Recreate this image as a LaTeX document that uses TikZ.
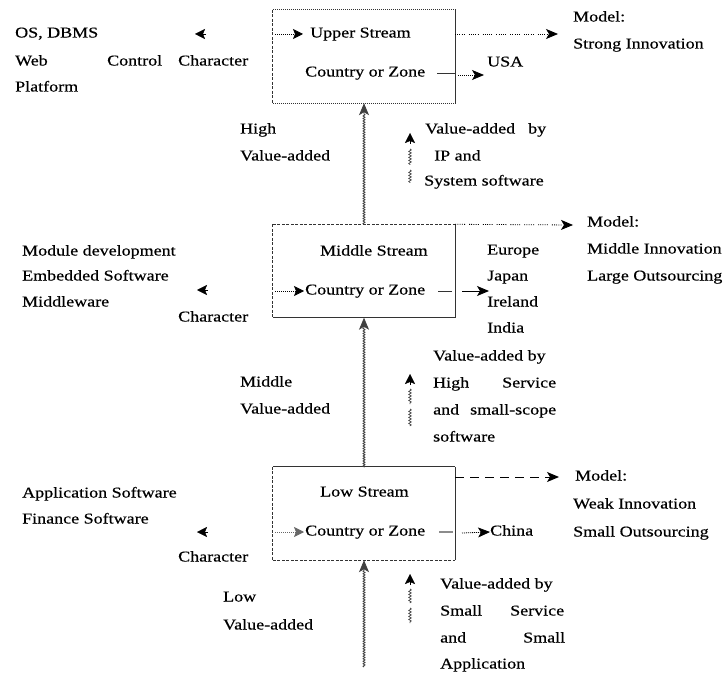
\documentclass[tikz,border=0pt]{standalone}
\usepackage{fontspec}
\setmainfont[FakeStretch=1.2,FakeBold=0.4]{Liberation Serif}
\usetikzlibrary{arrows.meta,decorations.pathmorphing}
\begin{document}
\begin{tikzpicture}[x=1pt,y=-1pt,
  lbl/.style={anchor=west,inner sep=0pt,text height=10pt,text depth=3pt,font=\fontsize{15}{18}\selectfont},
  box/.style={minimum width=182pt,minimum height=93pt,inner sep=0pt},
  edge/.style={line width=1.1pt,black!80},
  sarrow/.style={arrows={-Stealth[length=12pt,width=10pt,inset=3pt]}},
  loneh/.style={arrows={-Stealth[length=10pt,width=10pt,inset=2pt]}},
  dots/.style={line width=0.8pt,dash pattern=on 1pt off 1.2pt on 1pt off 1.2pt on 1pt off 1.2pt on 1pt off 1.2pt on 1pt off 4pt},
  fine/.style={line width=0.8pt,dash pattern=on 1pt off 1pt},
  dashedge/.style={line width=1pt,dash pattern=on 3pt off 1.5pt},
  longdash/.style={line width=1pt,dash pattern=on 9pt off 6pt},
  wavy/.style={line width=0.8pt,black!75,decorate,decoration={snake,amplitude=1pt,segment length=2.5pt,post length=10pt}},
  minwave/.style={line width=0.7pt,black!75,decorate,decoration={snake,amplitude=1.3pt,segment length=3pt}},
]
\useasboundingbox (0,0) rectangle (725,676);

% ---------- the three stream boxes ----------
\node[box] (up)  at (364,56.5) {};
\node[box] (mid) at (364,271)  {};
\node[box] (low) at (364,513.5) {};

% upper stream borders
\draw[edge,fine] (up.north west) -- (up.north east);
\draw[edge,dashedge] (up.north west) -- (up.south west);
\draw[edge]      (up.north east) -- (up.south east);
\draw[edge,fine] (up.south west) -- (up.south east);
% middle stream borders
\draw[edge,dashedge] (mid.north west) -- (mid.north east);
\draw[edge,dashedge] (mid.north west) -- (mid.south west);
\draw[edge]      (mid.north east) -- (mid.south east);
\draw[edge]      (mid.south west) -- (mid.south east);
% low stream borders
\draw[edge]      (low.north west) -- (low.north east);
\draw[edge,dashedge] (low.north west) -- (low.south west);
\draw[edge]      (low.north east) -- (low.south east);
\draw[edge,dashedge] (low.south west) -- (low.south east);

% ---------- upper stream ----------
\node[lbl] (upT) at (310,34) {Upper Stream};
\node[lbl] (upC) at (305,73) {Country or Zone};
\coordinate (upL) at (275,34);
\draw[fine,loneh] (upL) -- ([xshift=-7pt]upT.west);
\coordinate (upR1) at (437,74);
\coordinate (upR2) at (455,74);
\draw[line width=1pt,black!80] (upR1) -- (upR2);
\node[lbl] (usa) at (487,63) {USA};
\draw[fine,sarrow] (458,75) -- (484,75);
\coordinate (upM) at (455,34);
\coordinate (upMe) at (558,34);
\draw[dots,sarrow] (upM) -- (upMe);
\node[lbl] at (573,18) {Model:};
\node[lbl] at (573,45) {Strong Innovation};

\node[lbl] at (15,34) {OS, DBMS};
\node[lbl] at (15,62) {Web};
\node[lbl] at (107,62) {Control};
\node[lbl] at (178,62) {Character};
\node[lbl] at (15,88) {Platform};
\draw[loneh] (206,34) -- (195,34);

% ---------- between upper and middle ----------
\draw[wavy,sarrow] (mid.north) -- (up.south);
\node[lbl] at (240,130) {High};
\node[lbl] at (240,157) {Value-added};
\draw[minwave] (410,149) -- (410,165);
\draw[minwave] (410,170) -- (410,183);
\draw[loneh] (410,144) -- (410,133);
\node[lbl] at (425,130) {Value-added};
\node[lbl] at (528,130) {by};
\node[lbl] at (434,157) {IP and};
\node[lbl] at (424,182) {System software};

% ---------- middle stream ----------
\node[lbl] (midT) at (320,252) {Middle Stream};
\node[lbl] (midC) at (305,291) {Country or Zone};
\coordinate (midL) at (275,291);
\draw[fine,loneh] (midL) -- ([xshift=-1pt]midC.west);
\draw[line width=1pt,black!80] (438,291) -- (452,291);
\draw[line width=0.9pt,sarrow] (462,291) -- (489,291);
\node[lbl] at (487,251) {Europe};
\node[lbl] at (487,277) {Japan};
\node[lbl] at (487,303) {Ireland};
\node[lbl] at (487,329) {India};
\draw[dots,sarrow] (mid.north east) -- (573,225);
\node[lbl] at (587,223) {Model:};
\node[lbl] at (587,250) {Middle Innovation};
\node[lbl] at (587,277) {Large Outsourcing};

\node[lbl] at (22,252) {Module development};
\node[lbl] at (22,277) {Embedded Software};
\node[lbl] at (22,303) {Middleware};
\draw[loneh] (208,290) -- (197,290);
\node[lbl] at (178,318) {Character};

% ---------- between middle and low ----------
\draw[wavy,sarrow,shorten <=13pt] (low.north) -- (mid.south);
\node[lbl] at (240,383) {Middle};
\node[lbl] at (240,410) {Value-added};
\draw[minwave] (410,389) -- (410,404);
\draw[minwave] (410,409) -- (410,426);
\draw[loneh] (410,385) -- (410,374);
\node[lbl] at (433,357) {Value-added by};
\node[lbl] at (433,384) {High};
\node[lbl] at (502,384) {Service};
\node[lbl] at (433,411) {and};
\node[lbl] at (470,411) {small-scope};
\node[lbl] at (433,438) {software};

% ---------- low stream ----------
\node[lbl] (lowT) at (320,493) {Low Stream};
\node[lbl] (lowC) at (305,532) {Country or Zone};
\coordinate (lowL) at (275,532);
\draw[fine,black!60,loneh] (lowL) -- ([xshift=-1pt]lowC.west);
\draw[line width=2pt,black!45] (439,532) -- (453,532);
\node[lbl] (china) at (490,532) {China};
\draw[fine,sarrow] (462,533) -- (china.west);
\coordinate (lowM) at (455,477);
\draw[longdash,sarrow] (lowM) -- (559,477);
\node[lbl] at (575,477) {Model:};
\node[lbl] at (573,505) {Weak Innovation};
\node[lbl] at (573,533) {Small Outsourcing};

\node[lbl] at (22,494) {Application Software};
\node[lbl] at (22,520) {Finance Software};
\draw[loneh] (208,532) -- (197,532);
\node[lbl] at (178,558) {Character};

% ---------- below low ----------
\coordinate (base) at (364,667);
\draw[wavy,sarrow] (base) -- (low.south);
\node[lbl] at (223,598) {Low};
\node[lbl] at (223,626) {Value-added};
\draw[minwave] (410,589) -- (410,603);
\draw[minwave] (410,608) -- (410,623);
\draw[loneh] (410,585) -- (410,574);
\node[lbl] at (440,585) {Value-added by};
\node[lbl] at (440,612) {Small};
\node[lbl] at (510,612) {Service};
\node[lbl] at (440,639) {and};
\node[lbl] at (523,639) {Small};
\node[lbl] at (440,665) {Application};
\end{tikzpicture}
\end{document}
